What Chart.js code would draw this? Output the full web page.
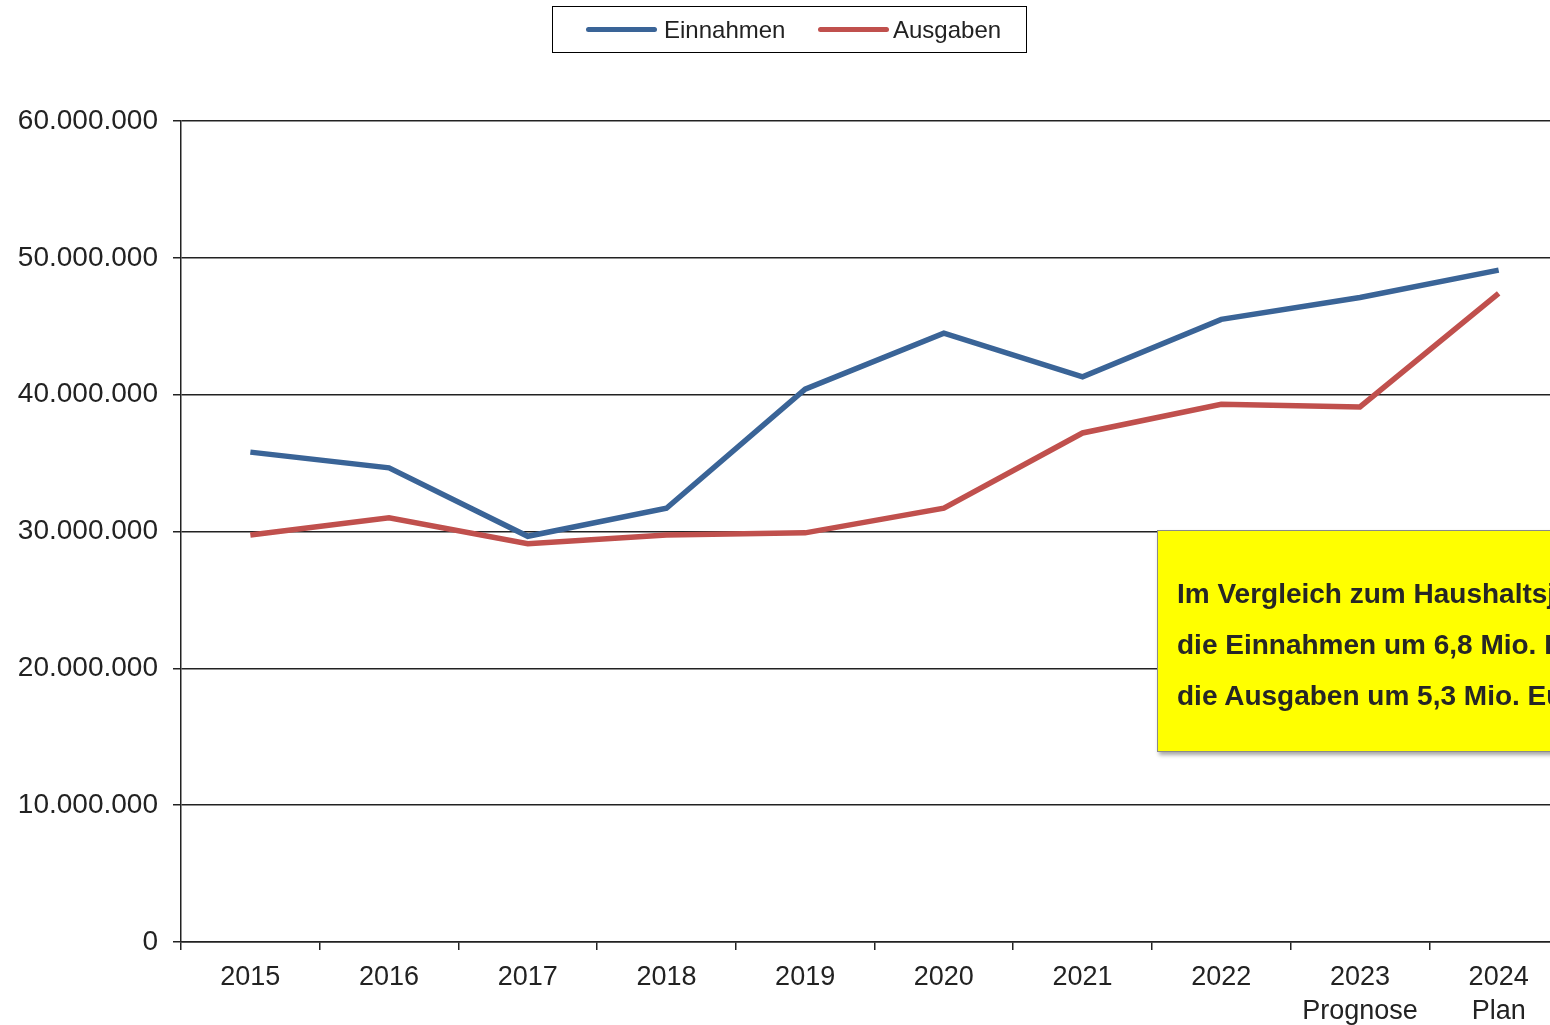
<!DOCTYPE html>
<html>
<head>
<meta charset="utf-8">
<script src="https://cdn.jsdelivr.net/npm/chart.js@4/dist/chart.umd.min.js"></script>
<style>
  html, body { margin: 0; padding: 0; background: #fff; overflow: hidden; width: 1550px; height: 1025px; }
  #wrap { position: absolute; left: 0; top: 0; width: 1570px; height: 1025px; }
  #legend {
    position: absolute; left: 552px; top: 6px; width: 473px; height: 45px;
    border: 1px solid #000; font-family: "Liberation Sans", Arial, sans-serif; font-size: 24px; color: #222;
  }
  #legend .swatch { position: absolute; top: 20px; width: 71px; height: 5px; border-radius: 3px; }
  #legend .txt { position: absolute; top: 0; height: 45px; line-height: 45px; white-space: nowrap; }
  #note {
    position: absolute; left: 1157px; top: 530px; width: 560px; height: 222px;
    background: #ffff00; border: 1px solid #8a8a8a; box-shadow: 2px 3px 4px rgba(0,0,0,0.35);
    font-family: "Liberation Sans", Arial, sans-serif; font-weight: bold; font-size: 28px; color: #262626;
    padding: 37px 0 0 19px; box-sizing: border-box; line-height: 51px; white-space: nowrap;
  }
</style>
</head>
<body>
<div id="wrap"><canvas id="chart" width="1570" height="1025"></canvas></div>
<div id="legend"></div>
<div id="note"></div>
<script>
const years = [['2015'], ['2016'], ['2017'], ['2018'], ['2019'], ['2020'], ['2021'], ['2022'], ['2023', 'Prognose'], ['2024', 'Plan']]
const einnahmen = [35800000, 34650000, 29650000, 31700000, 40400000, 44500000, 41300000, 45500000, 47100000, 49100000]
const ausgaben = [29750000, 31000000, 29100000, 29750000, 29900000, 31700000, 37200000, 39300000, 39100000, 47400000]
const noteLines = ['Im Vergleich zum Haushaltsjahr 2023 steigen', 'die Einnahmen um 6,8 Mio. Euro und', 'die Ausgaben um 5,3 Mio. Euro.']

const blue = '#3a6497'
const red = '#c0504d'
const font = '"Liberation Sans", Arial, sans-serif'

function formatDots(v) {
  return String(Math.round(v)).replace(/\B(?=(\d{3})+(?!\d))/g, '.')
}

const series = [
  { label: 'Einnahmen', data: einnahmen, color: blue },
  { label: 'Ausgaben', data: ausgaben, color: red }
]

new Chart(document.getElementById('chart'), {
  type: 'line',
  data: {
    labels: years,
    datasets: series.map(s => ({
      label: s.label,
      data: s.data,
      borderColor: s.color,
      backgroundColor: s.color,
      borderWidth: 5.5,
      pointRadius: 0,
      tension: 0,
      borderCapStyle: 'butt',
      borderJoinStyle: 'miter'
    }))
  },
  options: {
    responsive: false,
    animation: false,
    layout: { padding: { top: 121, right: 2, left: 0, bottom: 0 } },
    plugins: { legend: { display: false }, tooltip: { enabled: false } },
    scales: {
      x: {
        offset: true,
        grid: { offset: true, drawOnChartArea: false, drawTicks: true, tickLength: 8, color: '#222', lineWidth: 1.5 },
        border: { color: '#222', width: 1.5 },
        ticks: { color: '#222', font: { family: font, size: 27, lineHeight: 1.26 }, padding: 11, maxRotation: 0, autoSkip: false },
        afterFit: scale => { scale.height = 83 }
      },
      y: {
        min: 0,
        max: 60000000,
        grid: { color: '#222', lineWidth: 1.5, tickLength: 8 },
        border: { color: '#222', width: 1.5 },
        ticks: { stepSize: 10000000, color: '#222', font: { family: font, size: 28 }, padding: 15, callback: v => formatDots(v) },
        afterFit: scale => { scale.width = 181 }
      }
    }
  }
})

// legend
const legend = document.getElementById('legend')
const legendPos = [{ sw: 33, tx: 111 }, { sw: 265, tx: 340 }]
series.forEach((s, i) => {
  const sw = document.createElement('div')
  sw.className = 'swatch'
  sw.style.left = legendPos[i].sw + 'px'
  sw.style.background = s.color
  legend.appendChild(sw)
  const tx = document.createElement('div')
  tx.className = 'txt'
  tx.style.left = legendPos[i].tx + 'px'
  tx.textContent = s.label
  legend.appendChild(tx)
})

document.getElementById('note').innerHTML = noteLines.map(l => `<div>${l}</div>`).join('')
</script>
</body>
</html>
